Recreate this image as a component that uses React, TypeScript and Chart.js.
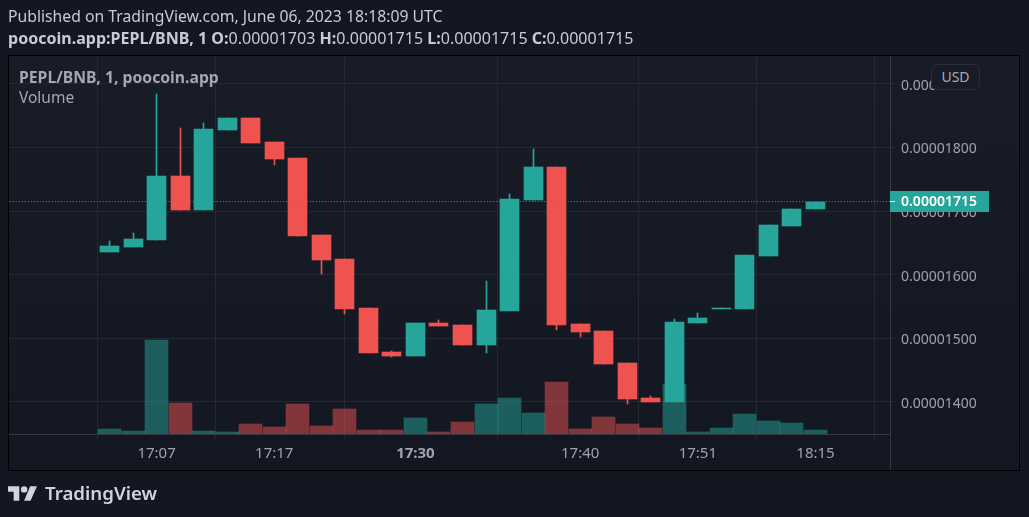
import React, { useEffect, useRef } from "react";
import { Chart, registerables } from "chart.js";

Chart.register(...registerables);

const UNIT = 1e-8;
const opens = [1635.7, 1643.6, 1654.6, 1755.2, 1701.7, 1827.5, 1846.4, 1808.6, 1783.5, 1662.4, 1624.7, 1547.6, 1478.5, 1472.2, 1524.1, 1520.9, 1489.5, 1542.9, 1717.5, 1769.3, 1522.5, 1511.5, 1461.1, 1406.1, 1399.8, 1524.1, 1546, 1546, 1629.4, 1676.6, 1703];
const closes = [1645.1, 1656.1, 1755.2, 1701.7, 1829.1, 1846.4, 1807.1, 1781.9, 1660.8, 1623.1, 1546, 1476.9, 1472.2, 1524.1, 1519.3, 1489.5, 1544.5, 1719, 1769.3, 1520.9, 1509.9, 1459.6, 1404.5, 1399.8, 1525.6, 1531.9, 1547.6, 1631, 1678.1, 1703.3, 1715];
const highs = [1653, 1665.6, 1884.1, 1830.7, 1838.5, 1846.4, 1846.4, 1808.6, 1783.5, 1662.4, 1624.7, 1547.6, 1480, 1524.1, 1528.8, 1520.9, 1590, 1726.9, 1797.6, 1769.3, 1522.5, 1511.5, 1461.1, 1409.3, 1530.3, 1539.8, 1547.6, 1631, 1678.1, 1703.3, 1715];
const lows = [1635.7, 1643.6, 1654.6, 1701.7, 1701.7, 1827.5, 1807.1, 1772.5, 1660.8, 1601.1, 1538.2, 1476.9, 1470.6, 1472.2, 1519.3, 1489.5, 1476.9, 1542.9, 1717.5, 1513, 1502, 1459.6, 1396.7, 1399.8, 1399.8, 1524.1, 1546, 1546, 1629.4, 1676.6, 1703];
const volumes = [5, 3, 94, 31, 3, 2, 10, 7, 30, 8, 25, 4, 4, 16, 2, 12, 30, 36, 21, 52, 5, 17, 10, 6, 50, 2, 6, 20, 13, 11, 4];
const priceTicks = [1400, 1500, 1600, 1700, 1800, 1900];
const timeTickIndex = [2, 7, 13, 20, 25, 30];
const timeTickLabels = ["17:07", "17:17", "17:30", "17:40", "17:51", "18:15"];
const boldTimeLabels = ["17:30"];
const lastPrice = 1715;

const GREEN = "#26a69a";
const RED = "#ef5350";
const GRID = "#242833";
const AXIS = "#363a45";
const TICK_COLOR = "#a0a3ac";
const FONT = "'Noto Sans', sans-serif";

const idx = opens.map((_, i) => i);
const up = (i: number) => closes[i] >= opens[i];

const snapPlugin = {
  id: "snap",
  afterDatasetsUpdate(chart: any) {
    chart.data.datasets.forEach((ds: any, d: number) => {
      const meta = chart.getDatasetMeta(d);
      if (ds.type === "line") {
        meta.data.forEach((el: any) => {
          el.y = Math.floor(el.y) + 0.5;
        });
        return;
      }
      meta.data.forEach((el: any) => {
        el.x = Math.floor(el.x) + 0.5;
        const y = Math.round(el.y);
        let base = Math.round(el.base);
        if (base === y) base = y + 1;
        el.y = y;
        el.base = base;
      });
    });
  },
};

const framePlugin = {
  id: "frame",
  beforeDraw(chart: any) {
    const { ctx, chartArea: a } = chart;
    ctx.save();
    const g = ctx.createLinearGradient(0, 56, 0, 470);
    g.addColorStop(0, "#181c27");
    g.addColorStop(1, "#131722");
    ctx.fillStyle = g;
    ctx.fillRect(9, 56, 1011, 414);
    ctx.strokeStyle = "#000000";
    ctx.lineWidth = 1;
    ctx.strokeRect(8.5, 55.5, 1011, 415);
    ctx.strokeStyle = AXIS;
    ctx.beginPath();
    ctx.moveTo(Math.round(a.right) + 0.5, 56);
    ctx.lineTo(Math.round(a.right) + 0.5, 470);
    ctx.stroke();
    ctx.restore();
  },
  afterDraw(chart: any) {
    const { ctx, scales } = chart;
    const y = Math.floor(scales.y.getPixelForValue(lastPrice * UNIT));
    ctx.save();
    ctx.fillStyle = GREEN;
    ctx.fillRect(890, y - 10, 99, 21);
    ctx.fillStyle = "#ffffff";
    ctx.fillRect(890, y, 5, 1);
    ctx.font = `600 14px ${FONT}`;
    ctx.textBaseline = "middle";
    ctx.fillText((lastPrice * UNIT).toFixed(8), 901, y + 1);
    ctx.restore();
  },
};

const abs = (left: number, top: number, extra: React.CSSProperties = {}): React.CSSProperties => ({
  position: "absolute",
  left,
  top,
  whiteSpace: "nowrap",
  fontFamily: FONT,
  fontSize: 15.75,
  lineHeight: "20px",
  ...extra,
});

export default function App() {
  const ref = useRef<HTMLCanvasElement>(null);
  useEffect(() => {
    document.body.style.margin = "0";
    document.body.style.background = "#131722";
    const chart = new Chart(ref.current as HTMLCanvasElement, {
      type: "bar",
      plugins: [snapPlugin, framePlugin],
      data: {
        datasets: [
          {
            type: "line",
            data: [{ x: -5, y: lastPrice * UNIT }, { x: 34, y: lastPrice * UNIT }],
            borderColor: GREEN,
            borderWidth: 1,
            borderDash: [1, 2],
            pointRadius: 0,
            order: 0,
            yAxisID: "y",
          },
          {
            data: idx.map((i) => ({ x: i, y: [opens[i] * UNIT, closes[i] * UNIT] })),
            backgroundColor: idx.map((i) => (up(i) ? GREEN : RED)),
            barThickness: 19,
            order: 1,
            yAxisID: "y",
          },
          {
            data: idx.map((i) => ({ x: i, y: [lows[i] * UNIT, highs[i] * UNIT] })),
            backgroundColor: idx.map((i) => (up(i) ? GREEN : RED)),
            barThickness: 1,
            order: 2,
            yAxisID: "y",
          },
          {
            data: idx.map((i) => ({ x: i, y: volumes[i] })),
            backgroundColor: idx.map((i) => (up(i) ? "rgba(38,166,154,0.5)" : "rgba(239,83,80,0.5)")),
            barThickness: 23,
            order: 3,
            yAxisID: "v",
          },
        ],
      } as any,
      options: {
        animation: false,
        responsive: false,
        devicePixelRatio: 1,
        layout: { padding: { left: 9, top: 56, right: 9, bottom: 47 } },
        plugins: { legend: { display: false }, tooltip: { enabled: false } },
        datasets: { bar: { grouped: false } },
        scales: {
          x: {
            type: "linear",
            offset: false,
            min: -4.27,
            max: 33.166,
            afterBuildTicks: (s: any) => {
              s.ticks = timeTickIndex.map((value) => ({ value }));
            },
            afterFit: (s: any) => {
              s.height = 36;
            },
            grid: { color: GRID, tickColor: GRID, tickLength: 5 },
            border: { color: AXIS },
            ticks: {
              autoSkip: false,
              maxRotation: 0,
              padding: 6,
              color: TICK_COLOR,
              font: (c: any) => {
                const bold = boldTimeLabels.includes(timeTickLabels[c.index]);
                return { family: FONT, size: 15, weight: bold ? "bold" : "normal" };
              },
              callback: (_: any, i: number) => timeTickLabels[i],
            },
          },
          y: {
            position: "right",
            min: 1349.5 * UNIT,
            max: 1943.9 * UNIT,
            afterBuildTicks: (s: any) => {
              s.ticks = priceTicks.map((p) => ({ value: p * UNIT }));
            },
            afterFit: (s: any) => {
              s.width = 130;
            },
            grid: { color: GRID, tickColor: GRID, tickLength: 5 },
            border: { color: AXIS },
            ticks: {
              padding: 6,
              labelOffset: 2,
              color: TICK_COLOR,
              font: { family: FONT, size: 14 },
              callback: (v: any) => Number(v).toFixed(8),
            },
          },
          v: { display: false, min: 0, max: 378 },
        },
      } as any,
    });
    return () => chart.destroy();
  }, []);

  return (
    <div style={{ position: "absolute", left: 0, top: 0, width: 1029, height: 517, overflow: "hidden", background: "#131722" }}>
      <canvas ref={ref} width={1029} height={517} style={{ display: "block", width: 1029, height: 517 }} />
      <div style={abs(8, 6, { color: "#c8cbd3" })}>Published on TradingView.com, June 06, 2023 18:18:09 UTC</div>
      <div style={abs(8, 28, { color: "#c8cbd3", fontSize: 16.05 })}>
        <b>poocoin.app:PEPL/BNB, 1 </b>
        <b>O:</b>0.00001703 <b>H:</b>0.00001715 <b>L:</b>0.00001715 <b>C:</b>0.00001715
      </div>
      <div style={abs(19, 67, { color: "#a4a7b0", fontWeight: 700, fontSize: 15.75 })}>PEPL/BNB, 1, poocoin.app</div>
      <div style={abs(19, 87, { color: "#a4a7b0", fontSize: 15.5 })}>Volume</div>
      <div
        style={abs(931, 64, {
          width: 47,
          height: 24,
          boxSizing: "content-box",
          border: "1px solid #2a2e39",
          borderRadius: 6,
          background: "#181c27",
          color: "#a8abb4",
          fontSize: 14,
          lineHeight: "24px",
          textAlign: "center",
        })}
      >
        USD
      </div>
      <svg style={{ position: "absolute", left: 8, top: 485 }} width={29} height={16} viewBox="0 0 36 19">
        <path fill="#d1d4dc" d="M14 19H7V8H0V1h14v18zM28 19h-8l7.5-18H36l-8 18z" />
        <circle cx="20" cy="5" r="4" fill="#d1d4dc" />
      </svg>
      <div style={abs(45, 482, { color: "#d1d4dc", fontWeight: 600, fontSize: 18.7, lineHeight: "22px" })}>TradingView</div>
    </div>
  );
}
